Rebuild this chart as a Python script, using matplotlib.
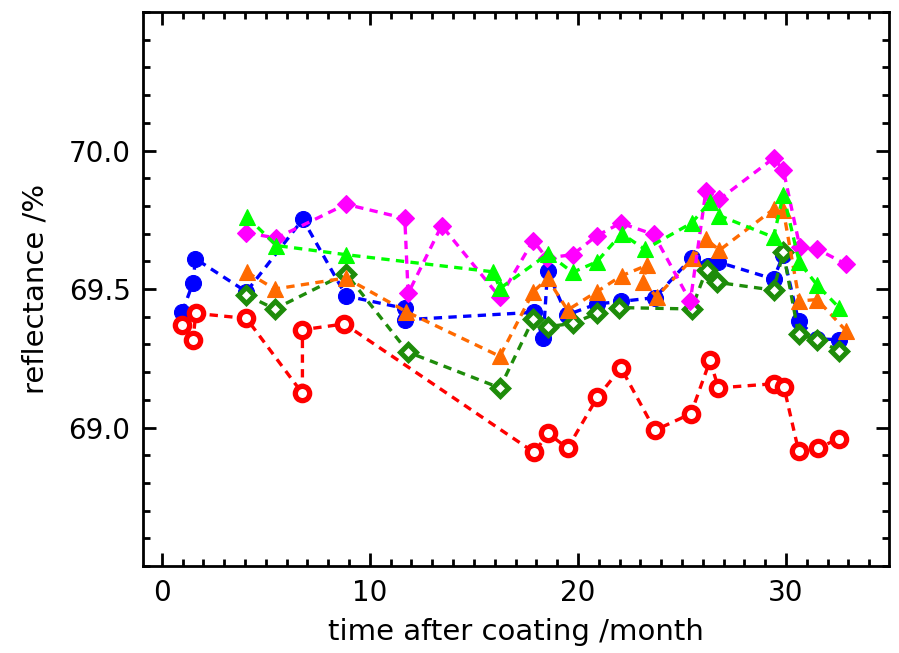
import matplotlib
matplotlib.use('Agg')
import matplotlib.pyplot as plt
from matplotlib.ticker import MultipleLocator

# reflectance of six coated samples, months after coating
blue_t = [0.99, 1.50, 1.62, 4.07, 6.78, 8.86, 11.68, 11.68, 17.88, 18.33, 18.54, 19.46,
          20.90, 22.05, 23.70, 25.46, 26.26, 26.75, 29.40, 29.87, 30.60, 31.50, 32.56]
blue_r = [69.418, 69.522, 69.609, 69.490, 69.752, 69.475, 69.430, 69.389, 69.416, 69.323, 69.564, 69.406,
          69.446, 69.455, 69.469, 69.612, 69.582, 69.597, 69.536, 69.624, 69.385, 69.320, 69.317]

red_t = [0.99, 1.51, 1.63, 4.07, 6.76, 6.76, 8.78, 17.90, 18.57, 19.50, 20.94, 22.07,
         23.70, 25.43, 26.35, 26.75, 29.40, 29.90, 30.60, 31.52, 32.56]
red_r = [69.370, 69.317, 69.412, 69.394, 69.123, 69.353, 69.374, 68.910, 68.979, 68.925, 69.110, 69.215,
         68.990, 69.050, 69.242, 69.143, 69.158, 69.146, 68.917, 68.926, 68.960]

dkgreen_t = [4.07, 5.43, 8.85, 11.84, 16.25, 17.85, 18.57, 19.74, 20.90, 21.99, 25.46, 26.18,
             26.70, 29.40, 29.87, 30.60, 31.50, 32.56]
dkgreen_r = [69.478, 69.428, 69.556, 69.272, 69.143, 69.392, 69.364, 69.376, 69.412, 69.433, 69.428, 69.570,
             69.524, 69.496, 69.633, 69.338, 69.315, 69.277]

orange_t = [4.10, 5.43, 8.85, 11.76, 16.25, 17.85, 18.54, 19.50, 20.90, 22.10, 23.30, 23.14,
            23.78, 25.54, 26.15, 26.80, 29.40, 29.87, 30.64, 31.50, 32.90]
orange_r = [69.560, 69.500, 69.540, 69.418, 69.257, 69.490, 69.538, 69.424, 69.490, 69.548, 69.585, 69.526,
            69.472, 69.612, 69.681, 69.640, 69.788, 69.785, 69.457, 69.462, 69.348]

magenta_t = [4.07, 5.51, 8.85, 11.68, 11.84, 13.45, 16.25, 17.85, 18.50, 19.74, 20.90, 22.05,
             23.65, 25.40, 26.15, 26.80, 29.40, 29.87, 30.67, 31.50, 32.90]
magenta_r = [69.703, 69.684, 69.806, 69.755, 69.484, 69.729, 69.470, 69.675, 69.612, 69.624, 69.692, 69.738,
             69.697, 69.455, 69.854, 69.824, 69.972, 69.930, 69.650, 69.644, 69.589]

lime_t = [4.10, 5.51, 8.85, 15.93, 16.25, 18.57, 19.74, 20.90, 22.10, 23.22, 25.46, 26.35,
          26.80, 29.40, 29.87, 30.64, 31.50, 32.56]
lime_r = [69.760, 69.657, 69.624, 69.562, 69.502, 69.627, 69.560, 69.598, 69.700, 69.643, 69.738, 69.815,
          69.765, 69.687, 69.841, 69.596, 69.514, 69.432]

plt.rcParams['font.family'] = 'DejaVu Sans'

fig = plt.figure(figsize=(8.99, 6.53), dpi=100)
ax = fig.add_axes([0.1591, 0.1332, 0.8298, 0.8484])

dash = (0, (2.5, 1.9))
lw = 2.4

ax.plot(blue_t, blue_r, linestyle=dash, lw=lw, color='#0000ff',
        marker='o', ms=11.5, mec='#0000ff', mfc='#0000ff', mew=0.8)
ax.plot(red_t, red_r, linestyle=dash, lw=lw, color='#ff0000',
        marker='o', ms=10.3, mec='#ff0000', mfc='white', mew=3.8)
ax.plot(dkgreen_t, dkgreen_r, linestyle=dash, lw=lw, color='#1e8c0a',
        marker='D', ms=8.6, mec='#1e8c0a', mfc='white', mew=3.6)
ax.plot(orange_t, orange_r, linestyle=dash, lw=lw, color='#ff6a00',
        marker='^', ms=12, mec='#ff6a00', mfc='#ff6a00', mew=0.8)
ax.plot(magenta_t, magenta_r, linestyle=dash, lw=lw, color='#ff00ff',
        marker='D', ms=9.5, mec='#ff00ff', mfc='#ff00ff', mew=0.8)
ax.plot(lime_t, lime_r, linestyle=dash, lw=lw, color='#00ff00',
        marker='^', ms=12, mec='#00ff00', mfc='#00ff00', mew=0.8)

ax.set_xlim(-0.9, 34.95)
ax.set_ylim(68.5, 70.5)

ax.xaxis.set_major_locator(MultipleLocator(10))
ax.xaxis.set_minor_locator(MultipleLocator(1))
ax.yaxis.set_major_locator(MultipleLocator(0.5))
ax.yaxis.set_minor_locator(MultipleLocator(0.1))
ax.yaxis.set_major_formatter(plt.FormatStrFormatter('%.1f'))

for s in ax.spines.values():
    s.set_linewidth(2.0)
ax.tick_params(which='both', direction='in', top=True, right=True, width=2.0,
               labelsize=20, colors='black')
ax.tick_params(which='major', length=9.5, pad=9)
ax.tick_params(which='minor', length=5)

# no labels at the 68.5 and 70.5 ends
ax.set_yticks([69.0, 69.5, 70.0])

ax.set_xlabel('time after coating /month', fontsize=21, labelpad=8)
ax.set_ylabel('reflectance /%', fontsize=21, labelpad=14)

fig.savefig('out.png', dpi=100)
